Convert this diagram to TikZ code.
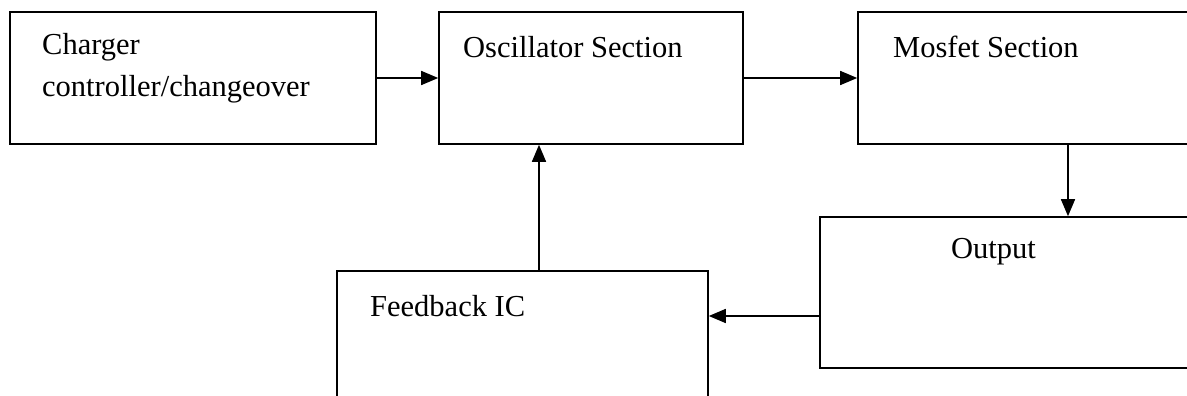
\documentclass[tikz,border=0pt]{standalone}
\usepackage{fontspec}
\setmainfont{Liberation Serif}
\usetikzlibrary{arrows.meta}
\tikzset{
  box/.style={draw, line width=1.6pt, rectangle, inner sep=0pt},
  lbl/.style={anchor=base west, inner sep=0pt, font=\fontsize{30.5}{41}\selectfont},
  arr/.style={line width=1.6pt, -{Triangle[length=17pt,width=14pt]}}
}
\begin{document}
\begin{tikzpicture}[x=1pt,y=-1pt]
\useasboundingbox (0,0) rectangle (1187,396);
\clip (0,0) rectangle (1187,396);
\node[box, minimum width=366pt, minimum height=132pt] (b1) at (193,78) {};
\node[box, minimum width=304pt, minimum height=132pt] (b2) at (591,78) {};
\node[box, minimum width=342pt, minimum height=132pt] (b3) at (1029,78) {};
\node[box, minimum width=380pt, minimum height=151pt] (b4) at (1010,292.5) {};
\node[box, minimum width=371pt, minimum height=139pt] (b5) at (522.5,340.5) {};
\node[lbl] (t1) at (42,55) {Charger};
\node[lbl] (t1b) at (42,96) {controller/changeover};
\node[lbl] (t2) at (463,58) {Oscillator Section};
\node[lbl] (t3) at (893,58) {Mosfet Section};
\node[lbl] (t4) at (951,258) {Output};
\node[lbl] (t5) at (370,316) {Feedback IC};
\coordinate (m) at (1068,144);
\coordinate (f) at (539,271);
\coordinate (o) at (820,316);
\draw[arr] (b1.east) -- (b2.west);
\draw[arr] (b2.east) -- (b3.west);
\draw[arr] (b3.south -| m) -- (m |- b4.north);
\draw[arr] (b5.north -| f) -- (f |- b2.south);
\draw[arr] (b4.west |- o) -- (o -| b5.east);
\end{tikzpicture}
\end{document}
